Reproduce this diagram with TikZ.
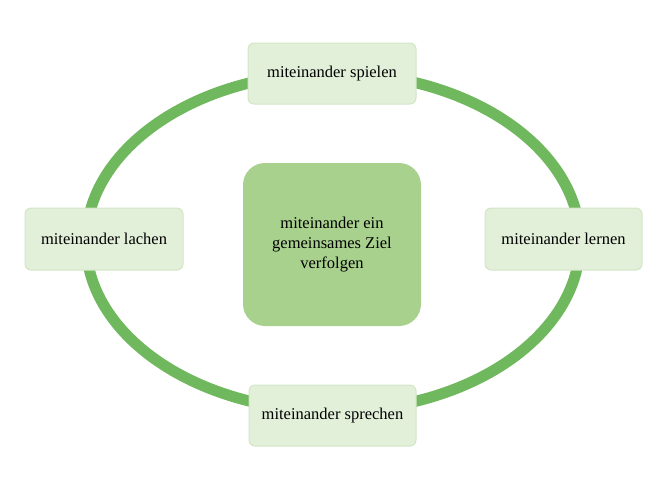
\documentclass[tikz,border=0pt]{standalone}
\usepackage{fontspec}
\setmainfont{Liberation Serif}
\begin{document}
\begin{tikzpicture}[x=1pt,y=-1pt,
 box/.style={draw=boxline, fill=boxfill, rounded corners=6pt, line width=1pt, font=\fontsize{16.5}{20}\selectfont, inner sep=0pt},
 ]
\definecolor{ring}{HTML}{70B85E}
\definecolor{boxfill}{HTML}{E2EFD9}
\definecolor{boxline}{HTML}{D2E5C6}
\definecolor{centerfill}{HTML}{A9D18E}
\useasboundingbox (0,0) rectangle (666,488);
\draw[ring, line width=11pt] (333,242) ellipse [x radius=247, y radius=169];
\node[box, minimum width=168pt, minimum height=61pt] (top) at (332,73.5) {miteinander spielen};
\node[box, minimum width=158pt, minimum height=62pt] (left) at (104,239) {miteinander lachen};
\node[box, minimum width=157pt, minimum height=62pt] (right) at (563.5,239) {miteinander lernen};
\node[box, minimum width=167pt, minimum height=61pt] (bottom) at (332.5,415.5) {miteinander sprechen};
\node[box, draw=none, fill=centerfill, rounded corners=22pt, minimum width=178pt, minimum height=163pt, align=center] (center) at (332,244.5) {miteinander ein\\gemeinsames Ziel\\verfolgen};
\end{tikzpicture}
\end{document}
